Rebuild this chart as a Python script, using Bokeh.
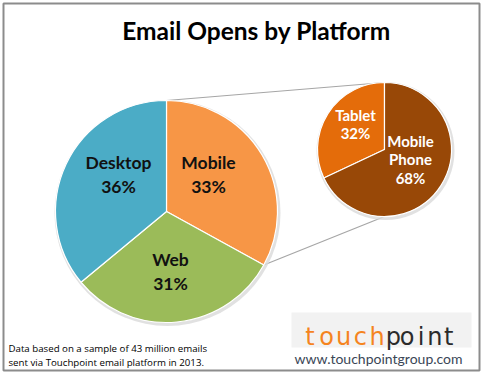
import math
from bokeh.plotting import figure
from bokeh.models import Range1d
from bokeh.core.properties import value
from bokeh.embed import file_html
from bokeh.resources import INLINE

# ---- data ----
title_text = "Email Opens by Platform"
main_labels = ["Mobile", "Web", "Desktop"]
main_values = [33, 31, 36]
main_colors = ["#F79646", "#9BBB59", "#4BACC6"]
sub_labels = ["Tablet", "Mobile\nPhone"]
sub_values = [32, 68]
sub_colors = ["#E46C0A", "#984807"]
note_lines = ["Data based on a sample of 43 million emails",
              "sent via Touchpoint email platform in 2013."]
logo_parts = ["touch", "point"]
url_text = "www.touchpointgroup.com"

# ---- layout (reference pixel coords; y converted) ----
W, H = 481, 373
def Y(y):
    return H - y

FONT = value("Lato")
p = figure(width=W, height=H, output_backend="svg", toolbar_location=None,
           x_range=Range1d(0, W), y_range=Range1d(0, H), min_border=0)
p.axis.visible = False
p.grid.visible = False
p.outline_line_color = None
p.background_fill_color = "white"
p.border_fill_color = "white"

# frame
p.quad(left=[3], right=[479], bottom=[Y(370)], top=[Y(3)],
       fill_color=None, line_color="#8c8c8c", line_width=2)

mcx, mcy, mr = 166, Y(211), 111
scx, scy, sr = 384, Y(149), 67

tot = sum(main_values)
cum = 0.0
bounds = []
for v in main_values:
    c0 = cum / tot
    cum += v
    bounds.append((c0, cum / tot))

# connector lines
top_ang = math.pi / 2
mw_ang = math.pi / 2 - bounds[0][1] * 2 * math.pi
p.line([mcx + mr * math.cos(top_ang), scx], [mcy + mr * math.sin(top_ang), scy + sr],
       line_color="#a6a6a6", line_width=1.2)
p.line([mcx + mr * math.cos(mw_ang), scx], [mcy + mr * math.sin(mw_ang), scy - sr],
       line_color="#a6a6a6", line_width=1.2)

# soft shadows
p.circle(x=[mcx + 1, scx + 1], y=[mcy - 1.5, scy - 1.5], radius=[mr + 2, sr + 2],
         fill_color="#d9d9d9", line_color=None, fill_alpha=0.8)

for (c0, c1), col in zip(bounds, main_colors):
    p.wedge(x=mcx, y=mcy, radius=mr,
            start_angle=math.pi / 2 - c1 * 2 * math.pi,
            end_angle=math.pi / 2 - c0 * 2 * math.pi,
            fill_color=col, line_color="white", line_width=1.2)

stot = sum(sub_values)
cum = 0.0
for v, col in zip(sub_values, sub_colors):
    c0 = cum / stot
    cum += v
    c1 = cum / stot
    p.wedge(x=scx, y=scy, radius=sr,
            start_angle=math.pi / 2 + c0 * 2 * math.pi,
            end_angle=math.pi / 2 + c1 * 2 * math.pi,
            fill_color=col, line_color="white", line_width=1.2)

# labels main pie
main_pos = [(208, 162), (170, 259), (118, 162)]
for lab, v, (lx, ly) in zip(main_labels, main_values, main_pos):
    p.text(x=[lx, lx], y=[Y(ly), Y(ly + 24)], text=[lab, f"{v}%"],
           text_font=FONT, text_font_style="bold", text_font_size="17.5px",
           text_color="#111111", text_align="center", text_baseline="middle")

sub_pos = [(355, 114), (410, 140)]
for lab, v, (lx, ly) in zip(sub_labels, sub_values, sub_pos):
    lines = lab.split("\n") + [f"{v}%"]
    p.text(x=[lx] * len(lines), y=[Y(ly + 18.5 * i) for i in range(len(lines))],
           text=lines, text_font=FONT, text_font_style="bold", text_font_size="15px",
           text_color="white", text_align="center", text_baseline="middle")

# title
p.text(x=[256], y=[Y(30)], text=[title_text], text_font=FONT, text_font_style="bold",
       text_font_size="24.5px", text_color="black", text_align="center",
       text_baseline="middle")

# footnote
p.text(x=[8, 8], y=[Y(348), Y(362)], text=note_lines, text_font=value("Open Sans"),
       text_font_size="9.7px", text_color="black", text_align="left",
       text_baseline="middle")

# logo box
p.quad(left=[291], right=[471], bottom=[Y(347)], top=[Y(312)],
       fill_color="#f2f2f2", line_color=None)
# logo letters spread out to mimic the wide logo face
spans = [(301, 385, "#F5841F"), (386, 455, "#2b2b2b")]
for part, (x0, x1, col) in zip(logo_parts, spans):
    n = len(part)
    step = (x1 - x0) / n
    p.text(x=[x0 + step * (i + 0.5) for i in range(n)], y=[Y(336)] * n,
           text=list(part), text_font=value("DejaVu Sans"), text_font_size="24px",
           text_color=col, text_align="center", text_baseline="alphabetic")

p.text(x=[378], y=[Y(358)], text=[url_text], text_font=value("Lato"),
       text_font_size="14px", text_color="#3a4656", text_align="center",
       text_baseline="middle")

open("out.html", "w").write(file_html(p, INLINE))
